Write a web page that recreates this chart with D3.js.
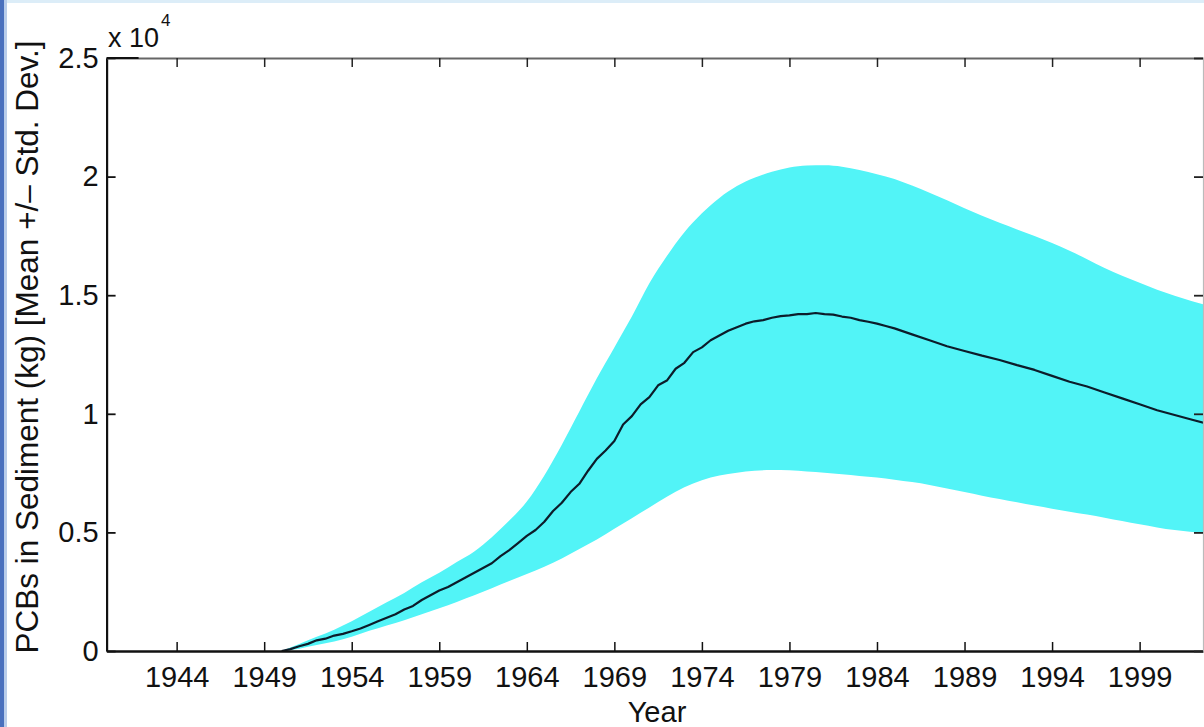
<!DOCTYPE html>
<html>
<head>
<meta charset="utf-8">
<script src="https://cdn.jsdelivr.net/npm/d3@7/dist/d3.min.js"></script>
<style>
  html, body { margin: 0; padding: 0; background: #ffffff; }
  svg { display: block; }
  text { font-family: "Liberation Sans", Arial, Helvetica, sans-serif; fill: #111; }
</style>
</head>
<body>
<svg id="chart" width="1204" height="727"></svg>
<script>
// ---------------- data (values in units of 10^4 kg) ----------------
const bandYears = [1950,1951,1952,1953,1954,1955,1956,1957,1958,1959,1960,1961,1962,1963,1964,1965,1966,1967,1968,1969,1970,1971,1972,1973,1974,1975,1976,1977,1978,1979,1980,1981,1982,1983,1984,1985,1986,1987,1988,1989,1990,1991,1992,1993,1994,1995,1996,1997,1998,1999,2000,2001,2002,2003];
const upperVals = [0,0.03,0.06,0.09,0.125,0.165,0.205,0.245,0.29,0.33,0.375,0.42,0.48,0.55,0.63,0.74,0.87,1.01,1.15,1.28,1.41,1.55,1.665,1.765,1.845,1.91,1.96,1.995,2.02,2.038,2.047,2.048,2.042,2.028,2.01,1.99,1.962,1.932,1.90,1.867,1.835,1.805,1.777,1.75,1.72,1.687,1.652,1.615,1.582,1.552,1.523,1.498,1.475,1.455];
const lowerVals = [0,0.01,0.025,0.04,0.06,0.085,0.108,0.13,0.155,0.18,0.207,0.235,0.265,0.295,0.325,0.355,0.39,0.43,0.47,0.515,0.56,0.605,0.65,0.69,0.72,0.74,0.752,0.76,0.763,0.762,0.757,0.752,0.745,0.738,0.731,0.722,0.712,0.70,0.685,0.67,0.655,0.641,0.627,0.613,0.60,0.587,0.575,0.562,0.548,0.534,0.521,0.51,0.502,0.494];

const meanYears = [1950,1950.5,1951,1951.5,1952,1952.5,1953,1953.5,1954,1954.5,1955,1955.5,1956,1956.5,1957,1957.5,1958,1958.5,1959,1959.5,1960,1960.5,1961,1961.5,1962,1962.5,1963,1963.5,1964,1964.5,1965,1965.5,1966,1966.5,1967,1967.5,1968,1968.5,1969,1969.5,1970,1970.5,1971,1971.5,1972,1972.5,1973,1973.5,1974,1974.5,1975,1975.5,1976,1976.5,1977,1977.5,1978,1978.5,1979,1979.5,1980,1980.5,1981,1981.5,1982,1982.5,1983,1983.5,1984,1984.5,1985,1986,1987,1988,1989,1990,1991,1992,1993,1994,1995,1996,1997,1998,1999,2000,2001,2002,2003];
const meanVals = [0,0.008,0.02,0.03,0.045,0.052,0.065,0.072,0.083,0.095,0.11,0.125,0.14,0.155,0.175,0.19,0.215,0.235,0.255,0.27,0.29,0.31,0.33,0.35,0.37,0.40,0.425,0.455,0.485,0.51,0.545,0.59,0.625,0.67,0.705,0.76,0.81,0.845,0.885,0.955,0.99,1.04,1.07,1.12,1.14,1.19,1.215,1.26,1.28,1.31,1.33,1.35,1.365,1.38,1.39,1.395,1.405,1.412,1.415,1.42,1.42,1.425,1.42,1.418,1.41,1.405,1.395,1.388,1.38,1.37,1.36,1.335,1.31,1.285,1.265,1.245,1.227,1.205,1.185,1.16,1.135,1.115,1.09,1.065,1.04,1.015,0.995,0.975,0.955];

const xTicks = [1944,1949,1954,1959,1964,1969,1974,1979,1984,1989,1994,1999];
const yTicks = [0,0.5,1,1.5,2,2.5];
const yTickLabels = ["0","0.5","1","1.5","2","2.5"];
const xDomain = [1940, 2002.62];
const yDomain = [0, 2.5];

// ---------------- layout ----------------
const svg = d3.select("#chart");
const L = 106.6, R = 1203, T = 58, B = 651;

const x = d3.scaleLinear().domain(xDomain).range([L, R]);
const y = d3.scaleLinear().domain(yDomain).range([B, T]);

// window frame remnants
svg.append("rect").attr("x",0).attr("y",0).attr("width",1204).attr("height",3).attr("fill","#dcedf8");
svg.append("rect").attr("x",0).attr("y",0).attr("width",4).attr("height",727).attr("fill","#4a70bd");
svg.append("rect").attr("x",4).attr("y",0).attr("width",3).attr("height",727).attr("fill","#b9cdea");

svg.append("defs").append("clipPath").attr("id","plotclip")
  .append("rect").attr("x",L).attr("y",T).attr("width",R-L).attr("height",B-T);

const plot = svg.append("g").attr("clip-path","url(#plotclip)");

const bandData = bandYears.map((yr,i)=>({yr, lo: lowerVals[i], hi: upperVals[i]}));
const area = d3.area()
  .x(d=>x(d.yr)).y0(d=>y(d.lo)).y1(d=>y(d.hi))
  .curve(d3.curveMonotoneX);
plot.append("path").datum(bandData).attr("d", area).attr("fill","#52f4f7");

const meanData = meanYears.map((yr,i)=>({yr, v: meanVals[i]}));
const line = d3.line().x(d=>x(d.yr)).y(d=>y(d.v));
plot.append("path").datum(meanData).attr("d", line)
  .attr("fill","none").attr("stroke","#0c1c2a").attr("stroke-width",2.2)
  .attr("stroke-linejoin","round");

// ---------------- axes ----------------
const fs = 29;
const xAxis = d3.axisBottom(x).tickValues(xTicks).tickFormat(d3.format("d"))
  .tickSizeInner(-9).tickSizeOuter(0).tickPadding(15);
const gx = svg.append("g").attr("transform",`translate(0,${B})`).call(xAxis);
gx.select(".domain").attr("stroke","#111").attr("stroke-width",2.6);
gx.selectAll(".tick line").attr("stroke","#111").attr("stroke-width",1.5);
gx.selectAll(".tick text").attr("font-size",fs).attr("fill","#111")
  .attr("font-family","Liberation Sans, Arial, sans-serif");

const yAxis = d3.axisLeft(y).tickValues(yTicks).tickFormat((d,i)=>yTickLabels[i])
  .tickSizeInner(-9).tickSizeOuter(0).tickPadding(8);
const gy = svg.append("g").attr("transform",`translate(${L},0)`).call(yAxis);
gy.select(".domain").attr("stroke","#111").attr("stroke-width",2.2);
gy.selectAll(".tick line").attr("stroke","#111").attr("stroke-width",1.8);
gy.selectAll(".tick text").attr("font-size",fs).attr("fill","#111")
  .attr("font-family","Liberation Sans, Arial, sans-serif");

const xTop = d3.axisTop(x).tickValues(xTicks).tickFormat("").tickSizeInner(-9).tickSizeOuter(0);
const gt = svg.append("g").attr("transform",`translate(0,${T})`).call(xTop);
gt.select(".domain").attr("stroke","#666").attr("stroke-width",2);
gt.selectAll(".tick line").attr("stroke","#222").attr("stroke-width",1.5);

const yRight = d3.axisRight(y).tickValues(yTicks).tickFormat("").tickSizeInner(-9).tickSizeOuter(0);
const gr = svg.append("g").attr("transform",`translate(${R},0)`).call(yRight);
gr.select(".domain").attr("stroke","#bbb").attr("stroke-width",1.2);
gr.selectAll(".tick line").attr("stroke","#222").attr("stroke-width",1.8);

// darker corner segment of the top frame line
svg.append("line").attr("x1",L).attr("x2",L+32).attr("y1",T).attr("y2",T)
  .attr("stroke","#111").attr("stroke-width",2.2);

// exponent label
const ex = svg.append("text").attr("x",108).attr("y",47).attr("font-size",27).attr("fill","#111");
ex.append("tspan").text("x 10");
ex.append("tspan").attr("font-size",17).attr("dy",-21).attr("dx",2).text("4");

// axis titles
svg.append("text").attr("x",657).attr("y",722).attr("text-anchor","middle")
  .attr("font-size",fs).attr("fill","#111").text("Year");
svg.append("text").attr("transform","translate(38,347) rotate(-90)")
  .attr("text-anchor","middle").attr("font-size",31.5).attr("fill","#111")
  .text("PCBs in Sediment (kg) [Mean +/\u2013 Std. Dev.]");
</script>
</body>
</html>
